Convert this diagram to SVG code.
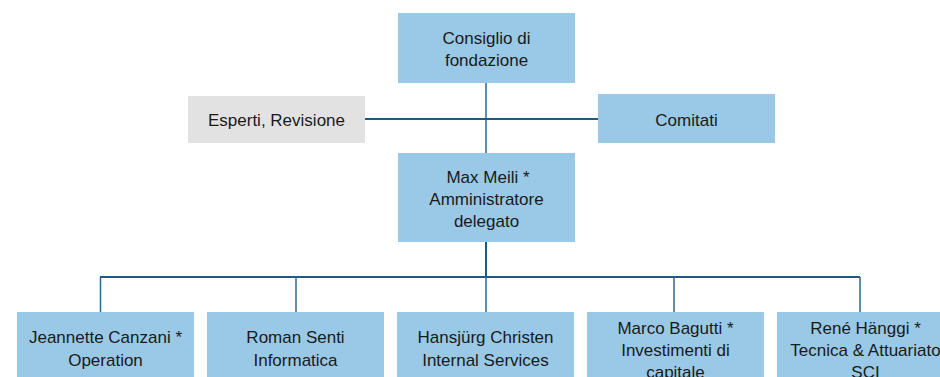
<svg xmlns="http://www.w3.org/2000/svg" width="940" height="377" viewBox="0 0 940 377">
<style>
.box{fill:#99c9e6}
.grey{fill:#e2e2e2}
.t{font-family:"Liberation Sans",Arial,sans-serif;font-size:17px;fill:#1a1a1a;text-anchor:middle}
.main{stroke:#1d5b85;stroke-width:2;fill:none}
.thin{stroke:#2a6a94;stroke-width:1.5;fill:none}
</style>
<rect width="940" height="377" fill="#ffffff"/>
<g id="connectors">
<line class="thin" x1="486" y1="83" x2="486" y2="153"/>
<line class="main" x1="365" y1="119" x2="598" y2="119"/>
<line class="main" x1="486" y1="242" x2="486" y2="277"/>
<polyline class="main" points="100,277 860,277"/>
<line class="thin" x1="100.5" y1="277" x2="100.5" y2="312"/>
<line class="thin" x1="296" y1="277" x2="296" y2="312"/>
<line class="thin" x1="486" y1="277" x2="486" y2="312"/>
<line class="thin" x1="674" y1="277" x2="674" y2="312"/>
<line class="thin" x1="860" y1="277" x2="860" y2="312"/>
</g>
<g id="consiglio">
<rect class="box" x="398" y="13" width="177" height="70"/>
<text class="t" x="486.5" y="44">Consiglio di</text>
<text class="t" x="486.5" y="66">fondazione</text>
</g>
<g id="esperti">
<rect class="grey" x="188" y="96" width="177" height="47"/>
<text class="t" x="276.5" y="126">Esperti, Revisione</text>
</g>
<g id="comitati">
<rect class="box" x="598" y="94" width="177" height="49"/>
<text class="t" x="686.5" y="126">Comitati</text>
</g>
<g id="meili">
<rect class="box" x="398" y="153" width="177" height="89"/>
<text class="t" x="488" y="183">Max Meili *</text>
<text class="t" x="486.5" y="205">Amministratore</text>
<text class="t" x="486.5" y="227">delegato</text>
</g>
<g id="canzani">
<rect class="box" x="17" y="312" width="177" height="65"/>
<text class="t" x="105.5" y="343">Jeannette Canzani *</text>
<text class="t" x="105.5" y="366">Operation</text>
</g>
<g id="senti">
<rect class="box" x="207" y="312" width="177" height="65"/>
<text class="t" x="295.5" y="343">Roman Senti</text>
<text class="t" x="295.5" y="366">Informatica</text>
</g>
<g id="christen">
<rect class="box" x="397" y="312" width="177" height="65"/>
<text class="t" x="485.5" y="343">Hansjürg Christen</text>
<text class="t" x="485.5" y="366">Internal Services</text>
</g>
<g id="bagutti">
<rect class="box" x="587" y="312" width="177" height="65"/>
<text class="t" x="675.5" y="334">Marco Bagutti *</text>
<text class="t" x="675.5" y="356">Investimenti di</text>
<text class="t" x="675.5" y="378">capitale</text>
</g>
<g id="haenggi">
<rect class="box" x="777" y="312" width="177" height="65"/>
<text class="t" x="865.5" y="334">René Hänggi *</text>
<text class="t" x="865.5" y="356">Tecnica &amp; Attuariato</text>
<text class="t" x="865.5" y="378">SCI</text>
</g>
</svg>
